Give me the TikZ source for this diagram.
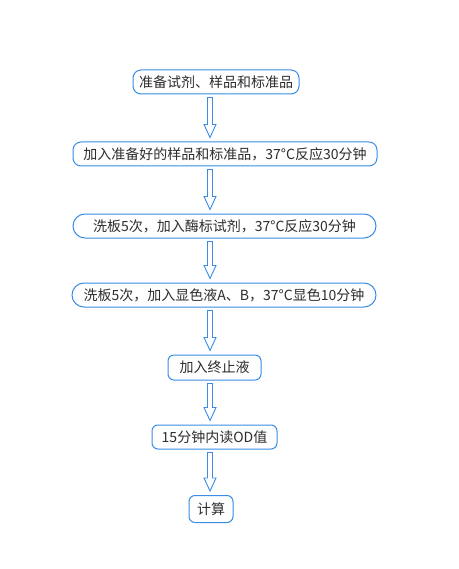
\documentclass[tikz,border=0pt]{standalone}
\usepackage{fontspec}
\setmainfont{Noto Sans CJK SC}
\usetikzlibrary{calc}
\definecolor{bord}{RGB}{58,140,230}
\definecolor{txt}{RGB}{45,45,45}
\tikzset{
  box/.style={draw=bord, line width=1pt, text=txt, inner sep=0pt, align=center,
    font=\fontsize{14}{16}\selectfont},
  flowarr/.style={draw=bord, line width=0.9pt, fill=white, line join=miter}
}
\newcommand{\flowarrow}[2]{%
  \draw[flowarr] let \p1=(#1.south), \p2=(#2.north) in
    (207.5pt,\y1-3pt) -- (212.5pt,\y1-3pt) -- (212.5pt,\y2+17pt) -- (216pt,\y2+17pt)
    -- (210pt,\y2+4pt) -- (204pt,\y2+17pt) -- (207.5pt,\y2+17pt) -- cycle;}
\begin{document}
\begin{tikzpicture}[x=1pt,y=-1pt]
\useasboundingbox[fill=white] (0,0) rectangle (458,569);
\node[box, rounded corners=8pt, minimum width=166pt, minimum height=24pt] (b1) at (216,82) {准备试剂、样品和标准品};
\node[box, rounded corners=8pt, minimum width=304pt, minimum height=24pt] (b2) at (225,154) {加入准备好的样品和标准品，37°C反应30分钟};
\node[box, rounded corners=12pt, minimum width=303pt, minimum height=24pt] (b3) at (224.5,226) {洗板5次，加入酶标试剂，37°C反应30分钟};
\node[box, rounded corners=12pt, minimum width=304pt, minimum height=24pt] (b4) at (224,295) {洗板5次，加入显色液A、B，37°C显色10分钟};
\node[box, rounded corners=6pt, minimum width=93pt, minimum height=25pt] (b5) at (214.5,367.5) {加入终止液};
\node[box, rounded corners=6pt, minimum width=125pt, minimum height=24pt] (b6) at (214.5,437) {15分钟内读OD值};
\node[box, rounded corners=6pt, minimum width=44pt, minimum height=27pt] (b7) at (211,509) {计算};
\flowarrow{b1}{b2}
\flowarrow{b2}{b3}
\flowarrow{b3}{b4}
\flowarrow{b4}{b5}
\flowarrow{b5}{b6}
\flowarrow{b6}{b7}
\end{tikzpicture}
\end{document}
